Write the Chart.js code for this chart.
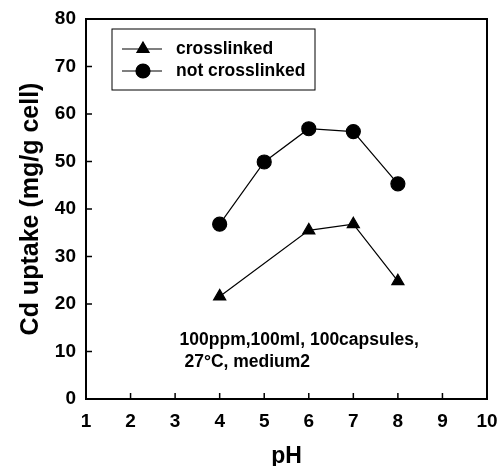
<!DOCTYPE html>
<html>
<head>
<meta charset="utf-8">
<script src="https://cdn.jsdelivr.net/npm/chart.js@4/dist/chart.umd.min.js"></script>
<style>
  html, body { margin: 0; padding: 0; background: #fff; }
  #wrap { width: 504px; height: 466px; }
</style>
</head>
<body>
<div id="wrap"><canvas id="grafico"></canvas></div>
<script>
// datos
const phCrosslinked = [4, 6, 7, 8];
const crosslinked = [21.6, 35.5, 36.8, 24.8];
const phNotCrosslinked = [4, 5, 6, 7, 8];
const notCrosslinked = [36.8, 49.9, 56.9, 56.3, 45.3];
const xTicks = [1, 2, 3, 4, 5, 6, 7, 8, 9, 10];
const yTicks = [0, 10, 20, 30, 40, 50, 60, 70, 80];
const notaLineas = ['100ppm,100ml, 100capsules,', ' 27\u00B0C, medium2'];

const fuente = '"Liberation Sans", Arial, sans-serif';

const toPoints = (xs, ys) => xs.map((x, i) => ({ x: x, y: ys[i] }));

// marco, marcas hacia dentro, leyenda y nota
const extras = {
  id: 'extras',
  afterDraw(chart) {
    const { ctx, chartArea: a, scales } = chart;
    ctx.save();
    ctx.strokeStyle = '#000';
    ctx.lineWidth = 2;
    ctx.strokeRect(a.left, a.top, a.right - a.left, a.bottom - a.top);

    // ticks hacia dentro
    ctx.lineWidth = 1.5;
    ctx.beginPath();
    xTicks.slice(1, -1).forEach(v => {
      const px = scales.x.getPixelForValue(v);
      ctx.moveTo(px, a.bottom);
      ctx.lineTo(px, a.bottom - 6);
    });
    yTicks.slice(1, -1).forEach(v => {
      const py = scales.y.getPixelForValue(v);
      ctx.moveTo(a.left, py);
      ctx.lineTo(a.left + 6, py);
    });
    ctx.stroke();

    // leyenda
    const lx = 112, ly = 29, lw = 203, lh = 61;
    ctx.lineWidth = 1;
    ctx.strokeRect(lx, ly, lw, lh);
    chart.data.datasets.forEach((ds, i) => {
      const cy = ly + 20 + i * 22;
      ctx.beginPath();
      ctx.lineWidth = 1.2;
      ctx.moveTo(lx + 10, cy);
      ctx.lineTo(lx + 50, cy);
      ctx.stroke();
      Chart.helpers.drawPoint(ctx, {
        pointStyle: ds.pointStyle, radius: ds.pointRadius, borderWidth: 1
      }, lx + 31, cy);
      ctx.fill();
      ctx.fillStyle = '#000';
      ctx.font = 'bold 17.5px ' + fuente;
      ctx.textBaseline = 'middle';
      ctx.textAlign = 'left';
      ctx.fillText(ds.label, lx + 64, cy);
    });

    // nota de condiciones
    ctx.font = 'bold 17.5px ' + fuente;
    ctx.textBaseline = 'middle';
    const nx = scales.x.getPixelForValue(3.1);
    notaLineas.forEach((t, i) => {
      const ny = scales.y.getPixelForValue(12.4 - i * 4.6);
      ctx.fillText(t, nx, ny);
    });
    ctx.restore();
  }
};

const ctx = document.getElementById('grafico').getContext('2d');
new Chart(ctx, {
  type: 'line',
  data: {
    datasets: [
      {
        label: 'crosslinked',
        data: toPoints(phCrosslinked, crosslinked),
        borderColor: '#000',
        backgroundColor: '#000',
        borderWidth: 1.2,
        pointStyle: 'triangle',
        pointRadius: 7,
        pointBackgroundColor: '#000',
        tension: 0
      },
      {
        label: 'not crosslinked',
        data: toPoints(phNotCrosslinked, notCrosslinked),
        borderColor: '#000',
        backgroundColor: '#000',
        borderWidth: 1.2,
        pointStyle: 'circle',
        pointRadius: 7,
        pointBackgroundColor: '#000',
        tension: 0
      }
    ]
  },
  options: {
    responsive: true,
    maintainAspectRatio: false,
    animation: false,
    layout: { padding: { left: 16, right: 17, top: 19, bottom: 0 } },
    plugins: { legend: { display: false }, tooltip: { enabled: false } },
    scales: {
      x: {
        type: 'linear',
        min: 1,
        max: 10,
        afterBuildTicks: s => { s.ticks = xTicks.map(v => ({ value: v })); },
        afterFit: s => { s.height = 67; },
        grid: { display: false },
        border: { display: false },
        ticks: { color: '#000', padding: 3, font: { family: fuente, size: 19, weight: 'bold' } },
        title: {
          display: true, text: 'pH', color: '#000', padding: 0,
          font: { family: fuente, size: 23, weight: 'bold', lineHeight: 0.8 }
        }
      },
      y: {
        min: 0,
        max: 80,
        afterBuildTicks: s => { s.ticks = yTicks.map(v => ({ value: v })); },
        afterFit: s => { s.width = 70; },
        grid: { display: false },
        border: { display: false },
        ticks: { color: '#000', padding: 2, font: { family: fuente, size: 19, weight: 'bold' } },
        title: {
          display: true, text: 'Cd uptake (mg/g cell)', color: '#000', padding: 0,
          font: { family: fuente, size: 25, weight: 'bold' }
        }
      }
    }
  },
  plugins: [extras]
});
</script>
</body>
</html>
